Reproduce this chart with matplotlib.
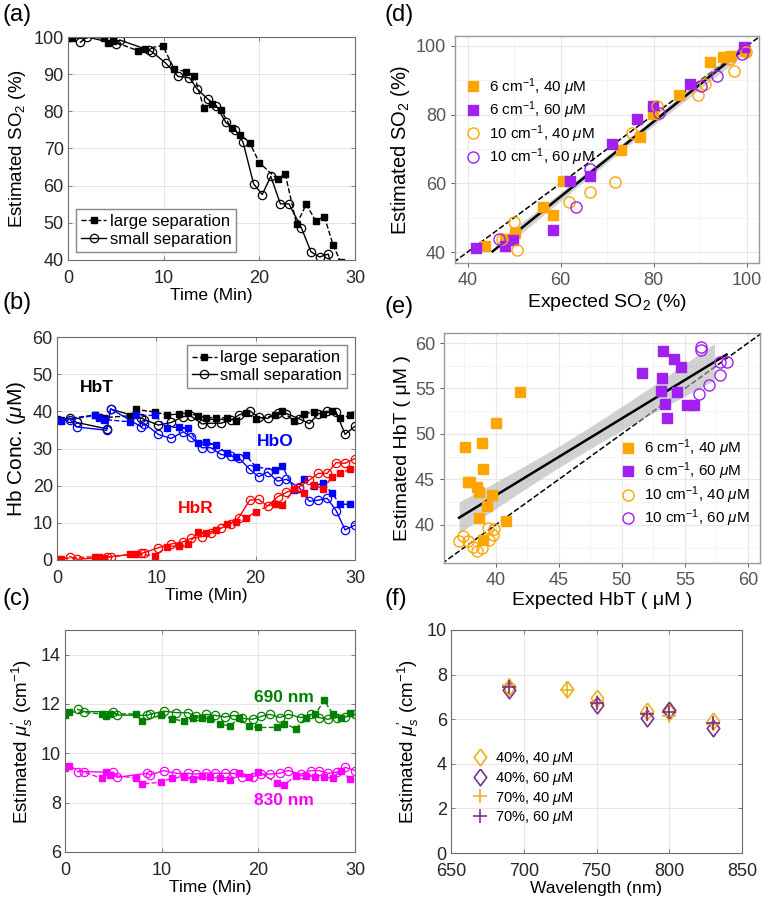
import numpy as np
import matplotlib
matplotlib.use('Agg')
import matplotlib.pyplot as plt

plt.rcParams['font.family'] = ['Liberation Sans', 'DejaVu Sans']
plt.rcParams['mathtext.fontset'] = 'custom'
plt.rcParams['mathtext.rm'] = 'Liberation Sans'
plt.rcParams['mathtext.it'] = 'Liberation Sans:italic'
plt.rcParams['mathtext.bf'] = 'Liberation Sans:bold'

# ---- panels (a)-(c): time courses ----
t_large = [0, 0.4, 3.8, 4.2, 4.7, 7.3, 8.0, 9.9, 11.1, 12.3, 13.2, 14.2, 15.0, 16.0,
           17.1, 18.0, 19.0, 20.0, 21.9, 22.7, 23.9, 24.9, 25.9, 26.8, 27.7, 28.5, 29.5]
t_small = [1.3, 2.0, 5.0, 5.4, 8.5, 8.8, 10.2, 11.5, 12.7, 13.5, 14.6, 15.5, 16.5, 17.5,
           18.3, 19.4, 20.3, 21.2, 22.2, 23.1, 24.4, 25.4, 26.3, 27.2, 28.1, 29.0, 30.0]

so2_large = [99.8, 99.7, 99.8, 98.4, 98.9, 96.3, 96.8, 97.7, 91.4, 90.7, 89.6, 80.9, 82.0, 80.3,
             75.4, 73.7, 71.5, 66.2, 61.7, 63.2, 49.6, 55.0, 50.5, 51.7, 44.1, 39.5, 38.5]
so2_small = [98.6, 100.0, 98.2, 99.2, 96.4, 96.0, 93.0, 89.4, 89.0, 86.0, 83.3, 81.5, 77.0, 75.0,
             71.7, 60.5, 57.6, 62.5, 55.1, 55.1, 48.6, 42.2, 40.8, 41.6, 33.7, 24.0, 26.0]

hbt_large = [38.0, 37.8, 39.0, 38.5, 38.3, 38.8, 40.5, 39.8, 39.0, 39.3, 39.5, 38.8, 38.3, 38.3,
             38.2, 37.5, 39.6, 37.9, 38.9, 40.0, 37.3, 39.4, 39.8, 39.4, 40.0, 38.2, 38.9]
hbo_large = [37.8, 37.4, 38.9, 38.3, 37.8, 37.2, 38.9, 38.9, 35.5, 35.8, 35.5, 31.5, 31.8, 30.9,
             28.8, 27.8, 28.2, 25.1, 24.2, 25.2, 18.8, 21.7, 20.0, 20.6, 17.9, 15.0, 15.0]
hbr_large = [0.4, 0.4, 0.9, 0.7, 0.6, 1.5, 1.5, 1.2, 3.6, 3.8, 4.2, 7.6, 7.2, 8.1,
             9.8, 10.3, 11.2, 13.0, 15.2, 14.8, 19.0, 17.9, 20.1, 19.2, 22.4, 23.3, 24.4]
hbt_small = [38.2, 37.0, 35.3, 40.6, 38.2, 37.8, 36.3, 37.0, 38.6, 38.7, 36.6, 36.8, 36.8, 37.6,
             39.0, 40.1, 38.4, 38.1, 39.5, 39.4, 38.0, 36.7, 39.3, 40.0, 39.8, 33.8, 36.0]
hbo_small = [37.8, 35.8, 34.9, 40.7, 35.8, 36.7, 33.8, 32.7, 34.5, 33.1, 30.2, 30.2, 28.4, 28.0,
             27.5, 24.4, 22.4, 23.7, 21.2, 21.7, 19.4, 15.8, 16.1, 16.6, 13.3, 8.1, 9.4]
hbr_small = [0.9, 0.2, 0.7, 0.9, 1.8, 2.0, 3.3, 4.3, 4.9, 5.8, 6.3, 7.2, 8.5, 9.8,
             11.4, 16.1, 16.3, 14.5, 17.0, 18.2, 19.7, 21.5, 23.3, 23.3, 26.2, 26.0, 27.3]

mus690_large = [11.54, 11.69, 11.6, 11.5, 11.6, 11.6, 11.3, 11.55, 11.4, 11.3, 11.45, 11.45, 11.4, 11.2,
                11.1, 11.45, 11.1, 11.05, 11.05, 11.2, 11.0, 11.45, 11.58, 12.15, 11.6, 11.44, 11.64]
mus830_large = [9.39, 9.47, 8.98, 9.23, 9.12, 9.0, 8.76, 8.83, 9.0, 9.03, 8.94, 9.1, 9.05, 9.0,
                8.9, 9.19, 9.03, 9.26, 8.8, 8.73, 9.1, 9.1, 9.05, 9.03, 9.0, 9.3, 8.96]
mus690_small = [11.78, 11.69, 11.69, 11.55, 11.54, 11.58, 11.71, 11.65, 11.65, 11.5, 11.58, 11.54, 11.47, 11.54,
                11.42, 11.38, 11.5, 11.58, 11.45, 11.58, 11.45, 11.58, 11.45, 11.38, 11.45, 11.47, 11.58]
mus830_small = [9.26, 9.26, 9.23, 9.03, 9.19, 9.12, 9.3, 9.19, 9.19, 9.16, 9.2, 9.19, 9.19, 9.19,
                9.05, 9.05, 9.15, 9.16, 9.19, 9.3, 9.16, 9.3, 9.3, 9.19, 9.23, 9.43, 9.3]

# ---- panel (d): expected vs estimated SO2 ----
d_o6_x = [43.8, 48.1, 50.1, 56.1, 58.3, 60.5, 73.0, 77.1, 79.9, 85.5, 92.1, 94.9, 96.4, 99.6]
d_o6_y = [41.7, 43.8, 45.5, 53.1, 50.9, 60.8, 69.8, 73.4, 80.2, 85.8, 95.4, 96.7, 97.1, 98.4]
d_p6_x = [41.9, 48.1, 49.7, 58.3, 61.9, 66.3, 71.0, 76.4, 79.9, 87.7, 99.3]
d_p6_y = [41.2, 41.7, 43.6, 46.3, 60.8, 62.2, 71.5, 78.8, 82.6, 89.0, 99.8]
d_o10_x = [47.4, 49.9, 50.6, 61.7, 66.2, 71.6, 75.3, 80.7, 89.6, 91.0, 97.3, 96.3, 99.8]
d_o10_y = [43.8, 48.6, 40.7, 54.7, 57.4, 60.3, 74.6, 82.6, 85.6, 89.0, 92.7, 96.1, 98.2]
d_p10_x = [46.7, 63.3, 66.2, 81.2, 90.2, 93.5, 98.9]
d_p10_y = [43.8, 53.1, 64.1, 80.6, 88.4, 91.3, 97.6]

# ---- panel (e): expected vs estimated HbT ----
e_o6_x = [37.6, 37.8, 38.0, 38.5, 38.7, 38.9, 39.0, 39.7, 39.3, 38.7, 39.0, 40.0, 40.8, 41.9]
e_o6_y = [48.6, 44.7, 44.7, 44.2, 43.6, 49.0, 46.1, 43.3, 42.1, 40.7, 38.3, 51.2, 40.4, 54.6]
e_p6_x = [51.6, 53.3, 53.2, 53.1, 53.4, 53.6, 54.1, 54.7, 54.4, 55.2, 55.7]
e_p6_y = [56.7, 59.1, 56.1, 54.7, 53.3, 51.8, 58.2, 57.4, 54.6, 53.2, 53.2]
e_o10_x = [37.1, 37.4, 37.8, 38.2, 38.5, 38.9, 39.4, 39.5, 39.8, 39.9]
e_o10_y = [38.2, 38.8, 38.2, 37.6, 37.1, 37.5, 39.6, 38.3, 38.9, 39.5]
e_p10_x = [56.3, 56.3, 57.8, 58.3, 57.8, 56.9, 56.1]
e_p10_y = [59.6, 59.2, 57.9, 57.9, 56.5, 55.4, 54.4]

# ---- panel (f): scattering vs wavelength ----
wl_40 = [690, 730, 750, 785, 800, 830]
wl_60 = [690, 750, 785, 800, 830]
f_so40_hb40 = [7.46, 7.34, 6.94, 6.39, 6.34, 5.90]
f_so40_hb60 = [7.31, 6.64, 6.04, 6.42, 5.60]
f_so70_hb40 = [7.54, 7.31, 6.79, 6.27, 6.15, 5.79]
f_so70_hb60 = [7.43, 6.72, 6.24, 6.34, 5.82]

W, H = 765, 899
fig = plt.figure(figsize=(W / 100, H / 100), dpi=100)


def box(l, t, r, b):
    return [l / W, 1 - b / H, (r - l) / W, (b - t) / H]


def matlab_axes(rect):
    ax = fig.add_axes(rect)
    for s in ax.spines.values():
        s.set_color('#6b6b6b')
        s.set_linewidth(0.8)
    ax.tick_params(direction='in', length=3, width=0.6, colors='#6b6b6b',
                   labelcolor='#262626', labelsize=13, top=True, right=True)
    ax.tick_params(axis='x', pad=7)
    ax.tick_params(axis='y', pad=3)
    ax.grid(True, color='#e6e6e6', lw=0.7)
    ax.set_axisbelow(True)
    return ax


def gg_axes(rect):
    ax = fig.add_axes(rect)
    for s in ax.spines.values():
        s.set_color('#9a9a9a')
        s.set_linewidth(1.0)
    ax.tick_params(direction='out', length=3, width=0.6, colors='#444444',
                   labelcolor='#555555', labelsize=13)
    ax.tick_params(which='minor', length=0)
    ax.grid(True, which='major', color='#e8e8e8', lw=0.9)
    ax.grid(True, which='minor', color='#f2f2f2', lw=0.5)
    ax.set_axisbelow(True)
    return ax


def smooth(ax, xs, ys, lo, hi):
    # linear fit with 95% band; parts falling outside the y scale limits are dropped
    x = np.asarray(xs, float)
    y = np.asarray(ys, float)
    k, c = np.polyfit(x, y, 1)
    xx = np.linspace(x.min(), x.max(), 200)
    n = len(x)
    s = np.sqrt(np.sum((y - (k * x + c)) ** 2) / (n - 2))
    se = s * np.sqrt(1 / n + (xx - x.mean()) ** 2 / np.sum((x - x.mean()) ** 2))
    fit = k * xx + c
    band_ok = (fit - 2.0 * se >= lo) & (fit + 2.0 * se <= hi)
    ax.fill_between(xx, fit - 2.0 * se, fit + 2.0 * se, where=band_ok, color='#b3b3b3',
                    alpha=0.6, lw=0, zorder=2)
    line_ok = (fit >= lo) & (fit <= hi)
    ax.plot(xx[line_ok], fit[line_ok], color='black', lw=1.8, zorder=3)


ORANGE, PURPLE = '#FFA500', '#A020F0'
MUS_LABEL = r'Estimated $\mu_s^{\prime}$ (cm$^{-1}$)'
LEG_KW = dict(handlelength=1.5, handletextpad=0.2, borderpad=0.3, labelspacing=0.15,
              fancybox=False, edgecolor='#888888', framealpha=1, fontsize=12)
DIAMOND = [(0, 1), (0.75, 0), (0, -1), (-0.75, 0), (0, 1)]

# (a)
ax = matlab_axes(box(68, 37, 355, 260))
ax.plot(t_large, so2_large, 'k--s', ms=5, lw=1, label='large separation')
ax.plot(t_small, so2_small, 'k-o', ms=6, mfc='none', lw=1, mew=0.9, label='small separation')
ax.set_xlim(0, 30)
ax.set_ylim(40, 100)
ax.set_xticks([0, 10, 20, 30])
ax.set_yticks(range(40, 101, 10))
ax.set_xlabel('Time (Min)', fontsize=12.5, labelpad=1)
ax.set_ylabel('Estimated SO$_2$ (%)', fontsize=13.5, labelpad=4)
ax.legend(loc='lower left', **LEG_KW)

# (b)
ax = matlab_axes(box(57, 337, 355, 560))
ax.plot(t_large, hbt_large, 'k--s', ms=5, lw=1, label='large separation')
ax.plot(t_small, hbt_small, 'k-o', ms=6, mfc='none', lw=1, mew=0.9, label='small separation')
ax.plot(t_large, hbo_large, '--s', color='#0000FF', ms=5, lw=1)
ax.plot(t_small, hbo_small, '-o', color='#0000FF', ms=6, mfc='none', lw=1, mew=0.9)
ax.plot(t_large, hbr_large, '--s', color='#FF0000', ms=5, lw=1)
ax.plot(t_small, hbr_small, '-o', color='#FF0000', ms=6, mfc='none', lw=1, mew=0.9)
ax.text(4.0, 46.5, 'HbT', color='black', fontsize=12.5, fontweight='bold', ha='center', va='center')
ax.text(22.0, 31.8, 'HbO', color='#0000FF', fontsize=12.5, fontweight='bold', ha='center', va='center')
ax.text(14.0, 13.9, 'HbR', color='#FF0000', fontsize=12.5, fontweight='bold', ha='center', va='center')
ax.set_xlim(0, 30)
ax.set_ylim(0, 60)
ax.set_xticks([0, 10, 20, 30])
ax.set_yticks(range(0, 61, 10))
ax.set_xlabel('Time (Min)', fontsize=12.5, labelpad=1)
ax.set_ylabel(r'Hb Conc. ($\mu$M)', fontsize=15, labelpad=3)
ax.legend(loc='upper right', **LEG_KW)

# (c)
ax = matlab_axes(box(65, 630, 355, 852))
GREEN, MAGENTA = '#008000', '#FF00FF'
ax.plot(t_large, mus690_large, '--s', color=GREEN, ms=5, lw=1)
ax.plot(t_small, mus690_small, '-o', color=GREEN, ms=6, mfc='none', lw=1, mew=0.9)
ax.plot(t_large, mus830_large, '--s', color=MAGENTA, ms=5, lw=1)
ax.plot(t_small, mus830_small, '-o', color=MAGENTA, ms=6, mfc='none', lw=1, mew=0.9)
ax.text(22.6, 12.25, '690 nm', color=GREEN, fontsize=12.5, fontweight='bold', ha='center', va='center')
ax.text(22.6, 8.1, '830 nm', color=MAGENTA, fontsize=12.5, fontweight='bold', ha='center', va='center')
ax.set_xlim(0, 30)
ax.set_ylim(6, 15)
ax.set_xticks([0, 10, 20, 30])
ax.set_yticks(range(6, 15, 2))
ax.set_xlabel('Time (Min)', fontsize=12.5, labelpad=1)
ax.set_ylabel(MUS_LABEL, fontsize=13.5, labelpad=4)

# (d)
ax = gg_axes(box(455, 36, 759, 263))
ax.plot([30, 110], [30, 110], 'k--', lw=1.1, zorder=2)
smooth(ax, d_o6_x + d_p6_x + d_o10_x + d_p10_x, d_o6_y + d_p6_y + d_o10_y + d_p10_y, 40, 100)
ax.plot(d_o6_x, d_o6_y, 's', color=ORANGE, ms=7, ls='none', zorder=4, label='6 cm$^{-1}$, 40 $\\mu$M')
ax.plot(d_p6_x, d_p6_y, 's', color=PURPLE, ms=7, ls='none', zorder=4, label='6 cm$^{-1}$, 60 $\\mu$M')
ax.plot(d_o10_x, d_o10_y, 'o', color=ORANGE, mfc='none', ms=8, mew=1, ls='none', zorder=4,
        label='10 cm$^{-1}$, 40 $\\mu$M')
ax.plot(d_p10_x, d_p10_y, 'o', color=PURPLE, mfc='none', ms=8, mew=1, ls='none', zorder=4,
        label='10 cm$^{-1}$, 60 $\\mu$M')
ax.set_xlim(37.3, 102.6)
ax.set_ylim(36.8, 102.9)
ax.set_xticks([40, 60, 80, 100])
ax.set_xticks([50, 70, 90], minor=True)
ax.set_yticks([40, 60, 80, 100])
ax.set_yticks([50, 70, 90], minor=True)
ax.set_xlabel('Expected SO$_2$ (%)', fontsize=14, labelpad=2)
ax.set_ylabel('Estimated SO$_2$ (%)', fontsize=14.5, labelpad=3)
ax.legend(loc='upper left', bbox_to_anchor=(0.0, 0.87), fontsize=11, frameon=False,
          handlelength=1.0, handletextpad=0.5, labelspacing=0.12, borderpad=0.2)

# (e)
ax = gg_axes(box(444, 333, 760, 563))
ax.plot([30, 70], [30, 70], 'k--', lw=1.1, zorder=2)
smooth(ax, e_o6_x + e_p6_x + e_o10_x + e_p10_x, e_o6_y + e_p6_y + e_o10_y + e_p10_y, 35, 60)
ax.plot(e_o6_x, e_o6_y, 's', color=ORANGE, ms=7, ls='none', zorder=4, label='6 cm$^{-1}$, 40 $\\mu$M')
ax.plot(e_p6_x, e_p6_y, 's', color=PURPLE, ms=7, ls='none', zorder=4, label='6 cm$^{-1}$, 60 $\\mu$M')
ax.plot(e_o10_x, e_o10_y, 'o', color=ORANGE, mfc='none', ms=8, mew=1, ls='none', zorder=4,
        label='10 cm$^{-1}$, 40 $\\mu$M')
ax.plot(e_p10_x, e_p10_y, 'o', color=PURPLE, mfc='none', ms=8, mew=1, ls='none', zorder=4,
        label='10 cm$^{-1}$, 60 $\\mu$M')
ax.set_xlim(35.9, 60.95)
ax.set_ylim(35.8, 61.1)
ax.set_xticks([40, 45, 50, 55, 60])
ax.set_xticks([37.5, 42.5, 47.5, 52.5, 57.5], minor=True)
ax.set_yticks([40, 45, 50, 55, 60])
ax.set_yticks([37.5, 42.5, 47.5, 52.5, 57.5], minor=True)
ax.set_xlabel('Expected HbT ( \u03bcM )', fontsize=14, labelpad=2)
ax.set_ylabel('Estimated HbT ( \u03bcM )', fontsize=14, labelpad=3)
ax.legend(loc='lower right', bbox_to_anchor=(1.0, 0.1), fontsize=11, frameon=False,
          handlelength=1.0, handletextpad=0.5, labelspacing=0.12, borderpad=0.2)

# (f)
ax = matlab_axes(box(451, 630, 742, 853))
F_OR, F_PU = '#EDB120', '#7E2F8E'
ax.plot(wl_40, f_so40_hb40, marker=DIAMOND, color=F_OR, mfc='none', ms=12, mew=1.2, ls='none',
        label='40%, 40 $\\mu$M')
ax.plot(wl_60, f_so40_hb60, marker=DIAMOND, color=F_PU, mfc='none', ms=12, mew=1.2, ls='none',
        label='40%, 60 $\\mu$M')
ax.plot(wl_40, f_so70_hb40, '+', color=F_OR, ms=10, mew=1.2, ls='none', label='70%, 40 $\\mu$M')
ax.plot(wl_60, f_so70_hb60, '+', color=F_PU, ms=10, mew=1.2, ls='none', label='70%, 60 $\\mu$M')
ax.set_xlim(650, 850)
ax.set_ylim(0, 10)
ax.set_xticks(range(650, 851, 50))
ax.set_yticks(range(0, 11, 2))
ax.set_xlabel('Wavelength (nm)', fontsize=12.5, labelpad=1)
ax.set_ylabel(MUS_LABEL, fontsize=13.5, labelpad=4)
ax.legend(loc='lower left', bbox_to_anchor=(0.03, 0.06), fontsize=10.5, frameon=False,
          handlelength=1.0, handletextpad=0.5, labelspacing=0.2)

# panel letters
for x, y, lab in [(2, 4, '(a)'), (2, 292, '(b)'), (2, 588, '(c)'),
                  (384, 4, '(d)'), (384, 296, '(e)'), (384, 588, '(f)')]:
    fig.text(x / W, 1 - y / H, lab, fontsize=17, va='top', ha='left')

fig.savefig('out.png', dpi=100)
